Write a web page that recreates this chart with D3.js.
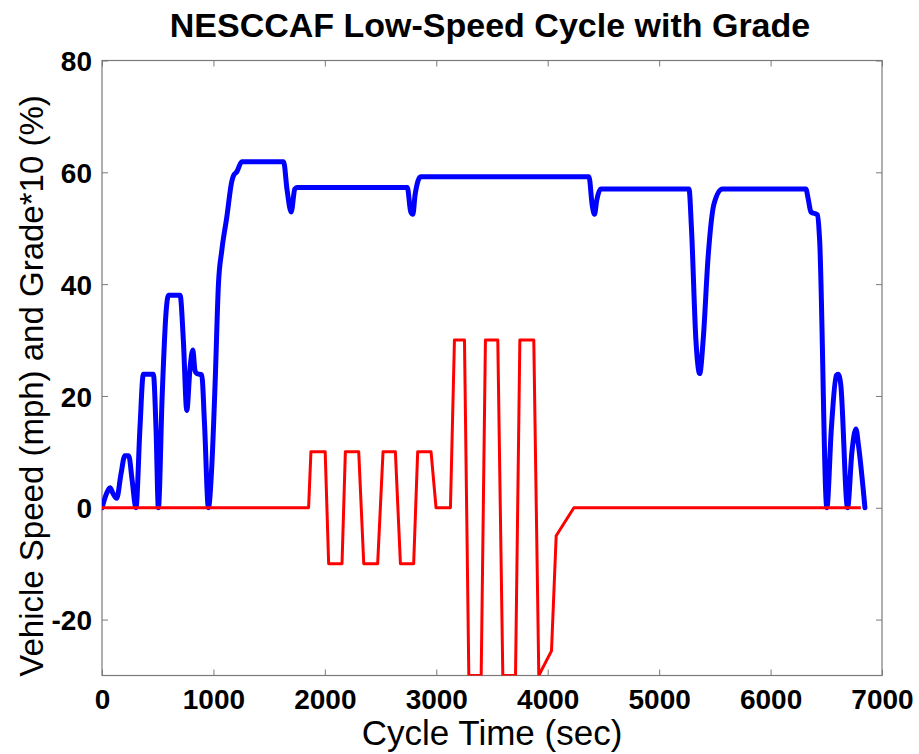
<!DOCTYPE html>
<html>
<head>
<meta charset="utf-8">
<script src="https://cdn.jsdelivr.net/npm/d3@7"></script>
<style>
  html, body { margin: 0; padding: 0; background: #fff; }
  text { font-family: "Liberation Sans", Arial, Helvetica, sans-serif; }
</style>
</head>
<body>
<svg id="chart" width="919" height="754"></svg>
<script>
// ---- data ----
const speedTime = [0,40,72,100,132,170,205,240,270,305,340,371,461,485,506,540,575,596,701,730,761,790,815,835,850,895,920,955,985,1015,1045,1075,1120,1165,1180,1210,1255,1630,1660,1698,1730,1749,2740,2770,2790,2810,2860,4370,4400,4420,4440,4475,5268,5290,5330,5364,5395,5440,5493,5568,6317,6340,6362,6422,6440,6505,6545,6590,6607,6630,6691,6730,6766,6790,6847];
const speedMph  = [0,2.5,3.6,2.5,1.7,6,9.3,9.3,5,0,14,23.9,23.9,14,0,20,35,38,38,30,17.4,25,28.2,24.5,24,23.8,15,0,7.3,22.2,40,46,52,58.4,59.4,60.1,61.9,61.9,57,52.9,57,57.3,57.3,53,52.5,56,59.2,59.2,54,52.5,55,57,57,50,30,24,30,45,54.4,57,57,55,52.9,52.4,48,0,14,23.7,23.9,22,0,10,14.1,11,0];
const gradeTime = [0,1854,1875,2003,2034,2154,2184,2304,2349,2474,2522,2633,2678,2797,2833,2953,2998,3127,3163,3253,3292,3403,3441,3552,3597,3711,3750,3875,3920,4034,4076,4235,6810];
const gradeX10  = [0,0,10,10,-10,-10,10,10,-10,-10,10,10,-10,-10,10,10,0,0,30,30,-30,-30,30,30,-30,-30,30,30,-30,-25.6,-5,0,0];
const xTicks = [0,1000,2000,3000,4000,5000,6000,7000];
const yTicks = [-20,0,20,40,60,80];
const titleText = "NESCCAF Low-Speed Cycle with Grade";
const xLabel = "Cycle Time (sec)";
const yLabel = "Vehicle Speed (mph) and Grade*10 (%)";

// ---- layout ----
const L = 102, R = 882, T = 60.5, B = 675.5;
const svg = d3.select("#chart");
const x = d3.scaleLinear().domain([0,7000]).range([L,R]);
const y = d3.scaleLinear().domain([-30,80]).range([B,T]);

svg.append("defs").append("clipPath").attr("id","clip")
  .append("rect").attr("x",L).attr("y",T).attr("width",R-L).attr("height",B-T);

const axisColor = "#7a7a7a";
const tickLen = 6;
const fmt = d => String(d);

// axes (ticks inside)
const gx = svg.append("g").attr("transform",`translate(0,${B})`)
  .call(d3.axisBottom(x).tickValues(xTicks).tickSize(-tickLen).tickPadding(14).tickFormat(fmt));
const gxTop = svg.append("g").attr("transform",`translate(0,${T})`)
  .call(d3.axisTop(x).tickValues(xTicks).tickSize(-tickLen).tickFormat(""));
const gy = svg.append("g").attr("transform",`translate(${L},0)`)
  .call(d3.axisLeft(y).tickValues(yTicks).tickSize(-tickLen).tickPadding(10).tickFormat(fmt));
const gyR = svg.append("g").attr("transform",`translate(${R},0)`)
  .call(d3.axisRight(y).tickValues(yTicks).tickSize(-tickLen).tickFormat(""));

[gx,gxTop,gy,gyR].forEach(g => {
  g.select(".domain").remove();
  g.selectAll(".tick line").attr("stroke",axisColor).attr("stroke-width",1);
  g.selectAll(".tick text").attr("fill","#000").style("font-size","28px").style("font-weight","bold")
   .style("font-family",'"Liberation Sans", Arial, sans-serif');
});
gy.selectAll(".tick text").attr("dy","0.36em");
svg.append("rect").attr("x",L).attr("y",T).attr("width",R-L).attr("height",B-T)
  .attr("fill","none").attr("stroke",axisColor).attr("stroke-width",1.2);

// lines
const speedData = speedTime.map((t,i)=>[t,speedMph[i]]);
const gradeData = gradeTime.map((t,i)=>[t,gradeX10[i]]);
const plot = svg.append("g").attr("clip-path","url(#clip)");
plot.append("path").datum(speedData)
  .attr("fill","none").attr("stroke","#0000ff").attr("stroke-width",5).attr("stroke-linejoin","round").attr("stroke-linecap","round")
  .attr("d", d3.line().x(d=>x(d[0])).y(d=>y(d[1])).curve(d3.curveMonotoneX));
plot.append("path").datum(gradeData)
  .attr("fill","none").attr("stroke","#ff0000").attr("stroke-width",3).attr("stroke-linejoin","round")
  .attr("d", d3.line().x(d=>x(d[0])).y(d=>y(d[1])));

// titles
svg.append("text").attr("x",490).attr("y",37).attr("text-anchor","middle")
  .style("font-size","34px").style("font-weight","bold").text(titleText);
svg.append("text").attr("x",492).attr("y",745).attr("text-anchor","middle")
  .style("font-size","35px").text(xLabel);
svg.append("text").attr("transform",`translate(43,386) rotate(-90)`).attr("text-anchor","middle")
  .style("font-size","33px").text(yLabel);
</script>
</body>
</html>
